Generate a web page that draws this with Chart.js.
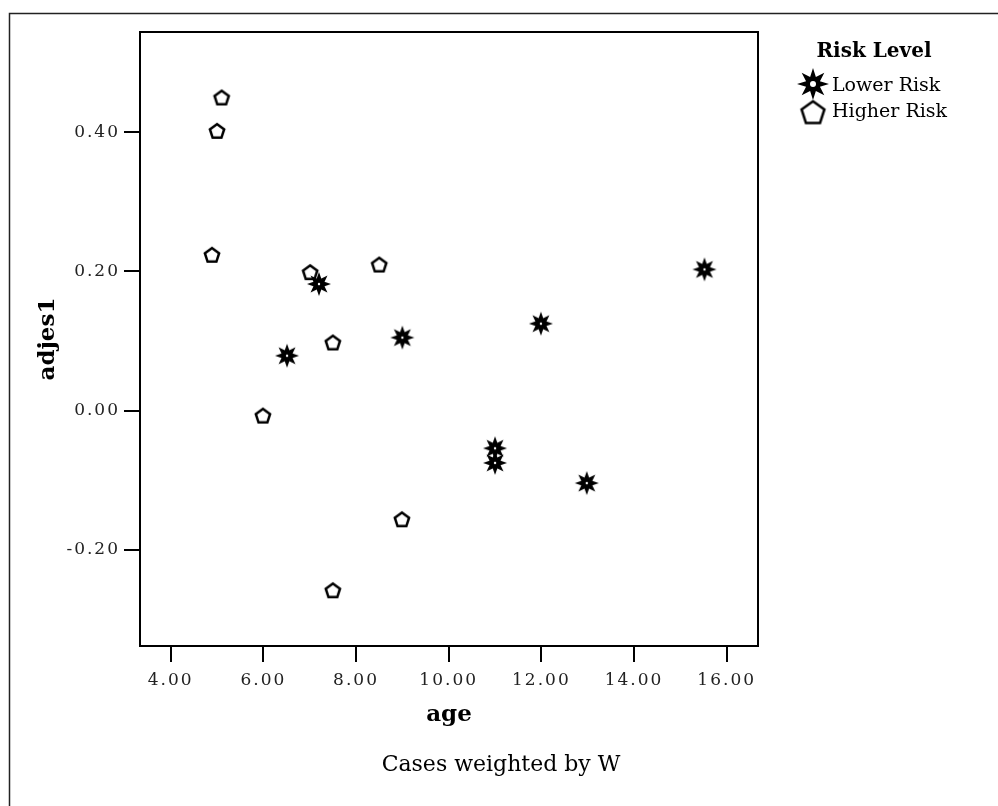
<!DOCTYPE html>
<html>
<head>
<meta charset="utf-8">
<script src="https://cdn.jsdelivr.net/npm/chart.js@4.4.1/dist/chart.umd.min.js"></script>
<style>
  html, body { margin: 0; padding: 0; background: #fff; }
</style>
</head>
<body>
<canvas id="scatter" width="998" height="806"></canvas>
<script>
// values
var seriesNames = ['Lower Risk', 'Higher Risk'];
var lowerAge  = [6.51, 7.20, 9.00, 11.99, 11.00, 11.00, 12.98, 15.52];
var lowerAdj  = [0.079, 0.182, 0.105, 0.125, -0.054, -0.075, -0.104, 0.203];
var higherAge = [5.10, 5.00, 4.89, 5.99, 7.01, 7.50, 8.50, 8.99, 7.50];
var higherAdj = [0.450, 0.402, 0.224, -0.007, 0.199, 0.098, 0.210, -0.156, -0.258];
var xTicks = [4, 6, 8, 10, 12, 14, 16];
var yTicks = [-0.2, 0, 0.2, 0.4];

function toPoints(xs, ys) {
  return xs.map(function (x, i) { return { x: x, y: ys[i] }; });
}

// 8 pointed filled star with a small white eye
function makeStar(outer, inner, hole) {
  var c = document.createElement('canvas');
  var s = Math.ceil(outer * 2 + 4);
  c.width = s; c.height = s;
  var g = c.getContext('2d');
  var m = s / 2;
  g.beginPath();
  for (var k = 0; k < 16; k++) {
    var r = k % 2 === 0 ? outer : inner;
    var a = -Math.PI / 2 + k * Math.PI / 8;
    g.lineTo(m + r * Math.cos(a), m + r * Math.sin(a));
  }
  g.closePath();
  g.fillStyle = '#000';
  g.fill();
  g.beginPath();
  g.arc(m, m, hole, 0, Math.PI * 2);
  g.fillStyle = '#fff';
  g.fill();
  return c;
}

function makePentagon(r, lw) {
  var c = document.createElement('canvas');
  var s = Math.ceil(r * 2 + lw + 4);
  c.width = s; c.height = s;
  var g = c.getContext('2d');
  var m = s / 2;
  g.beginPath();
  for (var k = 0; k < 5; k++) {
    var a = -Math.PI / 2 + k * 2 * Math.PI / 5;
    g.lineTo(m + r * Math.cos(a), m + r * Math.sin(a) + r * 0.1);
  }
  g.closePath();
  g.fillStyle = '#fff';
  g.fill();
  g.lineWidth = lw;
  g.lineJoin = 'miter';
  g.strokeStyle = '#000';
  g.stroke();
  return c;
}

var starMark = makeStar(12, 6, 1.2);
var pentMark = makePentagon(7.5, 2.5);
var legendStar = makeStar(16, 7.5, 3);
var legendPent = makePentagon(12, 2.5);

var serif = '"DejaVu Serif", "Liberation Serif", serif';

var decorations = {
  id: 'decorations',
  beforeDraw: function (chart) {
    chart.ctx.letterSpacing = '0px';
  },
  afterDatasetsDraw: function (chart) {
    // tick labels are drawn after this (ticks.z = 1), give them wide spacing
    chart.ctx.letterSpacing = '2px';
  },
  afterDraw: function (chart) {
    var ctx = chart.ctx, a = chart.chartArea;
    ctx.save();
    ctx.letterSpacing = '0px';

    // plot box
    ctx.strokeStyle = '#000';
    ctx.lineWidth = 2;
    ctx.strokeRect(a.left, a.top, a.right - a.left, a.bottom - a.top);

    // outer frame
    ctx.lineWidth = 1.5;
    ctx.strokeStyle = '#222';
    ctx.strokeRect(9.5, 13.5, 1200, 1200);

    // legend
    ctx.fillStyle = '#000';
    ctx.textBaseline = 'middle';
    ctx.textAlign = 'center';
    ctx.font = 'bold 20px ' + serif;
    ctx.fillText('Risk Level', 874, 52);
    ctx.drawImage(legendStar, 813 - legendStar.width / 2, 84 - legendStar.height / 2);
    ctx.drawImage(legendPent, 813 - legendPent.width / 2, 112 - legendPent.height / 2);
    ctx.textAlign = 'left';
    ctx.font = '19px ' + serif;
    ctx.fillText(seriesNames[0], 832, 86);
    ctx.fillText(seriesNames[1], 832, 112);

    // footnote
    ctx.textAlign = 'center';
    ctx.font = '22px ' + serif;
    ctx.fillText('Cases weighted by W', 501, 765);

    ctx.restore();
    ctx.letterSpacing = '0px';
  }
};

new Chart(document.getElementById('scatter'), {
  type: 'scatter',
  data: {
    datasets: [{
      label: seriesNames[0],
      data: toPoints(lowerAge, lowerAdj),
      pointStyle: starMark,
      pointRadius: 12,
      pointHoverRadius: 12
    }, {
      label: seriesNames[1],
      data: toPoints(higherAge, higherAdj),
      pointStyle: pentMark,
      pointRadius: 8,
      pointHoverRadius: 8
    }]
  },
  options: {
    responsive: false,
    animation: false,
    devicePixelRatio: 1,
    layout: { padding: { left: 20, top: 32, right: 240, bottom: 70 } },
    plugins: {
      legend: { display: false },
      tooltip: { enabled: false }
    },
    scales: {
      x: {
        type: 'linear',
        min: 3.337,
        max: 16.676,
        afterBuildTicks: function (scale) {
          scale.ticks = xTicks.map(function (v) { return { value: v }; });
        },
        afterFit: function (scale) { scale.height = 90; },
        grid: { drawOnChartArea: false, drawTicks: true, tickLength: 16, color: '#000', lineWidth: 2 },
        border: { display: true, color: '#000', width: 2 },
        ticks: {
          z: 1,
          padding: 8,
          color: '#222',
          maxRotation: 0,
          font: { family: serif, size: 17 },
          callback: function (v) { return v.toFixed(2); }
        },
        title: {
          display: true,
          text: 'age',
          color: '#000',
          padding: { top: 0, bottom: 7 },
          font: { family: serif, size: 23, weight: 'bold' }
        }
      },
      y: {
        type: 'linear',
        min: -0.338,
        max: 0.544,
        afterBuildTicks: function (scale) {
          scale.ticks = yTicks.map(function (v) { return { value: v }; });
        },
        afterFit: function (scale) { scale.width = 120; },
        grid: { drawOnChartArea: false, drawTicks: true, tickLength: 16, color: '#000', lineWidth: 2 },
        border: { display: true, color: '#000', width: 2 },
        ticks: {
          z: 1,
          padding: 4,
          color: '#222',
          font: { family: serif, size: 17 },
          callback: function (v) { return v.toFixed(2); }
        },
        title: {
          display: true,
          text: 'adjes1',
          color: '#000',
          padding: { top: 14, bottom: 0 },
          font: { family: serif, size: 23, weight: 'bold' }
        }
      }
    }
  },
  plugins: [decorations]
});
</script>
</body>
</html>
